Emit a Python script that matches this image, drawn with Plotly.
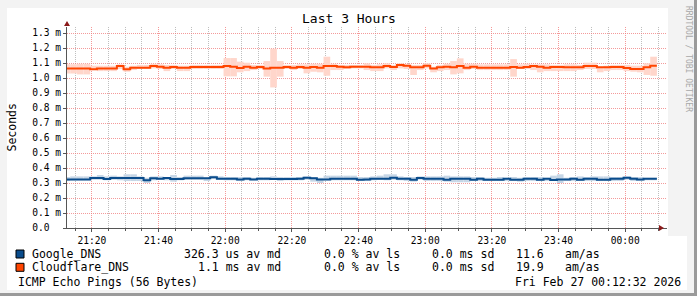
import plotly.graph_objects as go
import pandas as pd

# ---------------- data (milliseconds) ----------------
start_time = "2026-02-26 21:11:30"
step = "2min"
x_start = "2026-02-26 21:12:32"
x_end = "2026-02-27 00:12:32"

cf_med = [1.064,1.064,1.064,1.064,1.058,1.064,1.064,1.064,1.080,1.058,
          1.069,1.069,1.069,1.080,1.075,1.069,1.073,1.069,1.069,1.073,
          1.073,1.073,1.073,1.073,1.080,1.075,1.066,1.075,1.069,1.073,
          1.064,1.069,1.069,1.073,1.069,1.073,1.069,1.073,1.069,1.080,
          1.080,1.075,1.071,1.075,1.075,1.075,1.071,1.071,1.080,1.073,
          1.087,1.082,1.071,1.071,1.082,1.064,1.071,1.075,1.071,1.080,
          1.069,1.075,1.069,1.069,1.069,1.069,1.069,1.073,1.069,1.073,
          1.080,1.075,1.069,1.073,1.073,1.071,1.071,1.071,1.080,1.080,
          1.071,1.071,1.073,1.073,1.066,1.060,1.060,1.071,1.082]
cf_hi = [1.092,1.092,1.095,1.095,1.082,1.082,1.082,1.082,1.091,1.075,
         1.082,1.087,1.087,1.095,1.091,1.087,1.087,1.082,1.082,1.087,
         1.087,1.087,1.087,1.087,1.133,1.133,1.109,1.102,1.087,1.087,
         1.113,1.195,1.113,1.087,1.087,1.091,1.091,1.095,1.095,1.142,
         1.095,1.087,1.087,1.087,1.087,1.098,1.087,1.091,1.098,1.087,
         1.098,1.091,1.087,1.087,1.098,1.075,1.087,1.095,1.113,1.131,
         1.095,1.095,1.091,1.091,1.091,1.091,1.091,1.126,1.091,1.095,
         1.091,1.091,1.091,1.087,1.087,1.091,1.091,1.087,1.102,1.102,
         1.075,1.082,1.087,1.087,1.087,1.082,1.082,1.098,1.142]
cf_lo = [1.030,1.030,1.024,1.024,1.053,1.046,1.046,1.046,1.060,1.042,
         1.053,1.060,1.060,1.064,1.060,1.046,1.060,1.046,1.046,1.060,
         1.060,1.060,1.060,1.060,1.011,1.011,1.038,1.046,1.053,1.060,
         1.009,0.937,1.009,1.060,1.053,1.060,1.031,1.042,1.038,1.015,
         1.053,1.053,1.060,1.064,1.064,1.053,1.046,1.046,1.064,1.053,
         1.064,1.060,1.020,1.053,1.064,1.038,1.046,1.053,1.024,1.031,
         1.053,1.060,1.053,1.053,1.053,1.053,1.053,1.009,1.060,1.060,
         1.053,1.038,1.046,1.046,1.046,1.046,1.046,1.053,1.060,1.060,
         1.038,1.046,1.053,1.053,1.046,1.042,1.038,1.020,1.015]

g_med = [0.324,0.324,0.324,0.324,0.333,0.333,0.326,0.333,0.333,0.333,
         0.333,0.333,0.318,0.331,0.329,0.333,0.326,0.326,0.331,0.331,
         0.331,0.331,0.338,0.329,0.329,0.329,0.324,0.329,0.324,0.329,
         0.329,0.326,0.326,0.326,0.326,0.329,0.335,0.331,0.324,0.324,
         0.329,0.329,0.329,0.329,0.322,0.324,0.329,0.329,0.329,0.335,
         0.329,0.329,0.322,0.333,0.329,0.329,0.329,0.322,0.329,0.329,
         0.329,0.322,0.329,0.322,0.322,0.322,0.329,0.322,0.322,0.329,
         0.329,0.322,0.329,0.320,0.324,0.324,0.329,0.322,0.329,0.329,
         0.322,0.322,0.329,0.329,0.335,0.329,0.324,0.329,0.329]
g_hi = [0.340,0.344,0.344,0.344,0.344,0.353,0.344,0.349,0.344,0.358,
        0.358,0.344,0.335,0.344,0.344,0.340,0.353,0.340,0.349,0.349,
        0.349,0.335,0.349,0.344,0.340,0.340,0.340,0.340,0.335,0.340,
        0.340,0.344,0.340,0.340,0.340,0.340,0.344,0.340,0.335,0.349,
        0.349,0.349,0.349,0.349,0.340,0.340,0.344,0.349,0.358,0.358,
        0.344,0.340,0.340,0.344,0.344,0.344,0.344,0.349,0.344,0.344,
        0.344,0.340,0.340,0.335,0.335,0.340,0.335,0.340,0.335,0.340,
        0.340,0.340,0.335,0.349,0.358,0.335,0.340,0.344,0.340,0.344,
        0.344,0.344,0.340,0.340,0.344,0.340,0.340,0.335,0.335]
g_lo = [0.313,0.318,0.318,0.318,0.322,0.322,0.318,0.322,0.318,0.313,
        0.313,0.313,0.300,0.318,0.322,0.318,0.309,0.318,0.322,0.322,
        0.322,0.313,0.326,0.322,0.318,0.318,0.313,0.318,0.318,0.318,
        0.318,0.322,0.313,0.318,0.318,0.318,0.322,0.309,0.300,0.318,
        0.318,0.318,0.318,0.318,0.313,0.313,0.318,0.322,0.318,0.322,
        0.318,0.313,0.309,0.322,0.313,0.313,0.313,0.309,0.305,0.305,
        0.305,0.313,0.313,0.313,0.313,0.313,0.313,0.313,0.309,0.313,
        0.313,0.313,0.313,0.318,0.300,0.313,0.313,0.313,0.313,0.313,
        0.313,0.313,0.313,0.313,0.322,0.313,0.313,0.318,0.318]

y_ticks = [0.0, 0.1, 0.2, 0.3, 0.4, 0.5, 0.6, 0.7, 0.8, 0.9, 1.0, 1.1, 1.2, 1.3]
y_ticktext = ["0.0\u00a0\u00a0"] + ["%.1f m" % v for v in y_ticks[1:]]

title = "Last 3 Hours"
y_title = "Seconds"
legend_rows = [
    ("Google_DNS", "326.3 us av md", "0.0 % av ls", "0.0 ms sd", "11.6", "am/as"),
    ("Cloudflare_DNS", "1.1 ms av md", "0.0 % av ls", "0.0 ms sd", "19.9", "am/as"),
]
footer_left = "ICMP Echo Pings (56 Bytes)"
footer_right = "Fri Feb 27 00:12:32 2026"
watermark = "RRDTOOL / TOBI OETIKER"

c_google = "#0a4c8c"
c_cf = "#ff4500"
smoke_google = "#c6d6e6"
smoke_cf = "#ffd6cb"

# ---------------- geometry ----------------
W, H = 697, 296
L, R, T, B = 67, 667, 27, 228

def px(x):
    return (x - L) / (R - L)

def py(y):
    return (B - y) / (B - T)

n = len(g_med)
t = pd.date_range(start_time, periods=n + 1, freq=step)
step_ms = (t[1] - t[0]).total_seconds() * 1000
mono = "DejaVu Sans Mono"

fig = go.Figure()
for lo, hi, col in [(g_lo, g_hi, smoke_google), (cf_lo, cf_hi, smoke_cf)]:
    fig.add_trace(go.Bar(
        x=t[:-1], base=lo, y=[h - l for h, l in zip(hi, lo)],
        width=step_ms, offset=0, marker=dict(color=col, line=dict(width=0)),
        hoverinfo="skip", showlegend=False))
for med, col in [(g_med, c_google), (cf_med, c_cf)]:
    fig.add_trace(go.Scatter(
        x=t, y=med + [med[-1]], mode="lines", line=dict(color=col, width=2, shape="hv"),
        showlegend=False, hoverinfo="skip"))

major_grid = "rgba(240,120,120,0.75)"
minor_grid = "rgba(170,170,170,0.75)"
axis_col = "#555555"

fig.update_layout(
    width=W, height=H,
    margin=dict(l=L, r=W - R, t=T, b=H - B, pad=0),
    paper_bgcolor="#ffffff", plot_bgcolor="#ffffff",
    barmode="overlay", showlegend=False,
    xaxis=dict(
        type="date", range=[x_start, x_end],
        tick0="2026-02-26 21:20:00", dtick=20 * 60 * 1000, tickformat="%H:%M",
        showgrid=True, gridcolor=major_grid, griddash="1px,1px", gridwidth=1,
        ticks="outside", ticklen=3, tickcolor=axis_col,
        showline=True, linecolor=axis_col, linewidth=1, zeroline=False,
        tickfont=dict(family=mono, size=9.6, color="#000"),
        minor=dict(tick0="2026-02-26 21:15:00", dtick=5 * 60 * 1000, showgrid=True,
                   gridcolor=minor_grid, griddash="1px,1px", ticks="outside",
                   ticklen=2, tickcolor=axis_col),
    ),
    yaxis=dict(
        range=[0, (B - T) / 150.0], tickvals=y_ticks, ticktext=y_ticktext,
        showgrid=True, gridcolor=major_grid, griddash="1px,1px",
        ticks="outside", ticklen=3, tickcolor=axis_col,
        showline=True, linecolor=axis_col, linewidth=1, zeroline=False,
        tickfont=dict(family=mono, size=9.6, color="#000"),
    ),
)

shapes = []
# frame / background strips
bg_gray = "#f3f3f3"
shapes.append(dict(type="rect", xref="paper", yref="paper", x0=px(0), x1=px(W), y0=py(0), y1=py(8),
                   fillcolor=bg_gray, line=dict(width=0), layer="below"))
shapes.append(dict(type="rect", xref="paper", yref="paper", x0=px(0), x1=px(7), y0=py(0), y1=py(H),
                   fillcolor=bg_gray, line=dict(width=0), layer="below"))
shapes.append(dict(type="rect", xref="paper", yref="paper", x0=px(0), x1=px(W), y0=py(290), y1=py(H),
                   fillcolor=bg_gray, line=dict(width=0), layer="below"))
shapes.append(dict(type="rect", xref="paper", yref="paper", x0=px(668), x1=px(W), y0=py(0), y1=py(236),
                   fillcolor=bg_gray, line=dict(width=0), layer="below"))
shapes.append(dict(type="rect", xref="paper", yref="paper", x0=px(687), x1=px(W), y0=py(0), y1=py(H),
                   fillcolor=bg_gray, line=dict(width=0), layer="below"))
shapes.append(dict(type="rect", xref="paper", yref="paper", x0=px(694), x1=px(W), y0=py(0), y1=py(H),
                   fillcolor="#9a9a9a", line=dict(width=0), layer="below"))
shapes.append(dict(type="rect", xref="paper", yref="paper", x0=px(0), x1=px(W), y0=py(293), y1=py(H),
                   fillcolor="#9a9a9a", line=dict(width=0), layer="below"))
# axis arrows
arrow_col = "#8b1a1a"
shapes.append(dict(type="path", xref="paper", yref="paper",
                   path="M %f %f L %f %f L %f %f Z" % (px(L - 3), py(T - 1), px(L + 3), py(T - 1), px(L), py(T - 6)),
                   fillcolor=arrow_col, line=dict(width=0), layer="above"))
shapes.append(dict(type="path", xref="paper", yref="paper",
                   path="M %f %f L %f %f L %f %f Z" % (px(R - 8), py(B - 3), px(R - 8), py(B + 3), px(R - 3), py(B)),
                   fillcolor=arrow_col, line=dict(width=0), layer="above"))
# legend boxes
for i, col in enumerate([c_google, c_cf]):
    yc = 254 + i * 13.3
    shapes.append(dict(type="rect", xref="paper", yref="paper",
                       x0=px(16), x1=px(24), y0=py(yc - 4), y1=py(yc + 4),
                       fillcolor=col, line=dict(color="#000", width=1)))
fig.update_layout(shapes=shapes)

ann = []
def txt(x, y, s, size=11.5, xanchor="left", color="#000", angle=0, yanchor="middle"):
    ann.append(dict(x=px(x), y=py(y), xref="paper", yref="paper", text=s, showarrow=False,
                    xanchor=xanchor, yanchor=yanchor, textangle=angle,
                    font=dict(family=mono, size=size, color=color)))

txt(348.5, 18, title, size=13, xanchor="center")
txt(11, (T + B) / 2, y_title, size=11.5, xanchor="center", angle=-90)
txt(688, 4, watermark, size=8, xanchor="center", color="#a8a8a8", angle=90, yanchor="top")
for i, row in enumerate(legend_rows):
    yc = 254 + i * 13.3
    txt(30, yc, row[0])
    txt(283, yc, row[1], xanchor="right")
    txt(321.7, yc, row[2])
    txt(430, yc, row[3])
    txt(514, yc, row[4])
    txt(562.7, yc, row[5])
txt(16, 282, footer_left)
txt(513.3, 282, footer_right)
fig.update_layout(annotations=ann)

fig.write_html("out.html")
